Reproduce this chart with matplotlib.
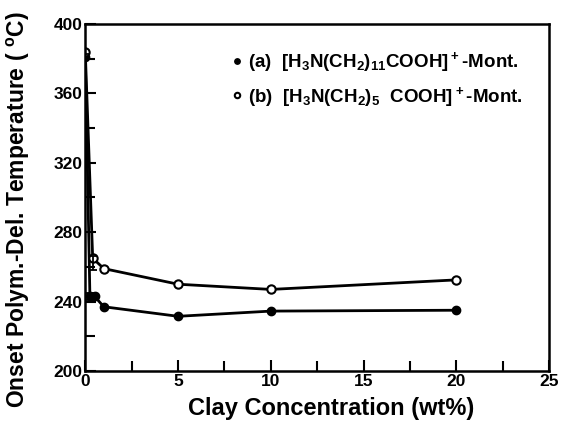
import matplotlib
matplotlib.use("Agg")
import matplotlib.pyplot as plt
from matplotlib.ticker import MultipleLocator

plt.rcParams['font.family'] = ['Liberation Sans', 'DejaVu Sans']
plt.rcParams['font.weight'] = 'bold'
plt.rcParams['mathtext.fontset'] = 'custom'
plt.rcParams['mathtext.rm'] = 'Liberation Sans:bold'
plt.rcParams['mathtext.bf'] = 'Liberation Sans:bold'
plt.rcParams['mathtext.default'] = 'bf'

# Clay concentration (wt%) and onset temperature (deg C)
conc_a = [0, 0.25, 0.5, 1, 5, 10, 20]
temp_a = [381, 243, 243, 237, 231.5, 234.5, 235]
conc_b = [0, 0.4, 1, 5, 10, 20]
temp_b = [384, 265, 259, 250, 247, 252.5]

label_a = r'(a)  [H$_3$N(CH$_2$)$_{11}$COOH]$^+$-Mont.'
label_b = r'(b)  [H$_3$N(CH$_2$)$_5$  COOH]$^+$-Mont.'

fig = plt.figure(figsize=(5.61, 4.22), dpi=100)
ax = fig.add_axes([0.152, 0.121, 0.827, 0.822])

ax.plot(conc_a, temp_a, color='black', lw=2, marker='o', ms=6,
        mfc='black', mec='black', label=label_a)
ax.plot(conc_b, temp_b, color='black', lw=2, marker='o', ms=6,
        mfc='white', mec='black', mew=1.5, label=label_b)

# short error bars on the low-concentration points
ax.errorbar([0, 0.4, 0.25], [381, 262, 243], yerr=[2, 4, 2],
            fmt='none', ecolor='black', elinewidth=1.3, capsize=3, capthick=1.3)

ax.set_xlim(0, 25)
ax.set_ylim(200, 400)
ax.xaxis.set_major_locator(MultipleLocator(5))
ax.xaxis.set_minor_locator(MultipleLocator(2.5))
ax.yaxis.set_major_locator(MultipleLocator(40))
ax.yaxis.set_minor_locator(MultipleLocator(20))
ax.tick_params(which='both', direction='in', top=False, right=False,
               width=1.5, labelsize=12.5)
ax.tick_params(which='major', length=8)
ax.tick_params(which='minor', length=7)
ax.tick_params(axis='x', pad=2)
ax.tick_params(axis='y', pad=2)
for s in ax.spines.values():
    s.set_linewidth(1.8)
for lbl in ax.get_xticklabels() + ax.get_yticklabels():
    lbl.set_fontweight('bold')

ax.set_xlabel('Clay Concentration (wt%)', fontsize=17, fontweight='bold')
ax.xaxis.set_label_coords(0.53, -0.075)
ax.set_ylabel(r'Onset Polym.-Del. Temperature ( $^o$C)', fontsize=16.5,
              fontweight='bold')
ax.yaxis.set_label_coords(-0.115, 0.465)

leg = ax.legend(loc='upper right', frameon=False, handlelength=0.4,
                handletextpad=0.4, borderaxespad=1.0, labelspacing=0.55,
                markerscale=0.65, prop={'weight': 'bold', 'size': 13.5})
for h in leg.legend_handles:
    h.set_linestyle('none')

fig.savefig('out.png', dpi=100)
